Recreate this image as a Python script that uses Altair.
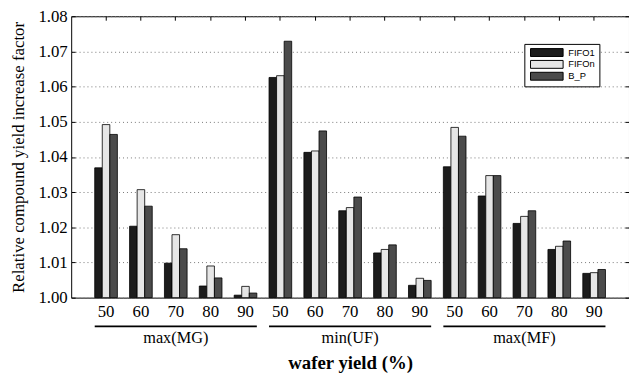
import altair as alt
import pandas as pd

groups = ["max(MG)", "min(UF)", "max(MF)"]
yields = ["50", "60", "70", "80", "90"]
series = ["FIFO1", "FIFOn", "B_P"]
colors = ["#1c1c1c", "#e6e6e6", "#4b4b4b"]

fifo1 = [1.0369, 1.0203, 1.0098, 1.0033, 1.0007,
         1.0626, 1.0413, 1.0247, 1.0127, 1.0035,
         1.0372, 1.0289, 1.0211, 1.0137, 1.0069]
fifon = [1.0492, 1.0307, 1.0179, 1.0090, 1.0032,
         1.0631, 1.0417, 1.0256, 1.0137, 1.0055,
         1.0484, 1.0347, 1.0231, 1.0146, 1.0071]
b_p = [1.0464, 1.0260, 1.0139, 1.0056, 1.0013,
       1.0729, 1.0474, 1.0286, 1.0150, 1.0049,
       1.0459, 1.0347, 1.0247, 1.0161, 1.0080]

y_ticks = [1.00, 1.01, 1.02, 1.03, 1.04, 1.05, 1.06, 1.07, 1.08]

W, H = 565, 285
SERIF = "Liberation Serif"

cats = [f"{g}|{y}" for g in groups for y in yields]
rows = []
for s, vals in zip(series, [fifo1, fifon, b_p]):
    for c, v in zip(cats, vals):
        rows.append({"cat": c, "series": s, "value": v})
df = pd.DataFrame(rows)

grp_df = pd.DataFrame({
    "group": groups,
    "start": [f"{g}|{yields[0]}" for g in groups],
    "end": [f"{g}|{yields[-1]}" for g in groups],
    "mid": [f"{g}|{yields[2]}" for g in groups],
})

xscale = alt.Scale(domain=cats, paddingInner=0.35, paddingOuter=0.675)
yscale = alt.Scale(domain=[1.0, 1.08], zero=False, nice=False)

bars = alt.Chart(df).mark_bar(stroke="black", strokeWidth=0.8).encode(
    x=alt.X("cat:N", scale=xscale, title="wafer yield (%)",
            axis=alt.Axis(orient="bottom", labelExpr="split(datum.label, '|')[1]",
                          labelAngle=0, ticks=False, tickSize=0, domain=False,
                          labelPadding=6, labelFont=SERIF, labelFontSize=17,
                          labelColor="black", titleFont=SERIF, titleFontSize=19,
                          titleFontWeight="bold", titleColor="black",
                          titlePadding=35, grid=False)),
    xOffset=alt.XOffset("series:N", sort=series,
                        scale=alt.Scale(paddingInner=0, paddingOuter=0)),
    y=alt.Y("value:Q", scale=yscale, title="Relative compound yield increase factor",
            axis=alt.Axis(orient="left", values=y_ticks, format=".2f", ticks=False,
                          tickSize=0, domain=False, labelPadding=4, labelFont=SERIF,
                          labelFontSize=17, labelColor="black", titleFont=SERIF,
                          titleFontSize=17, titleFontWeight="normal",
                          titleColor="black", titlePadding=11,
                          grid=True, gridDash=[1, 3], gridColor="#777",
                          gridWidth=1)),
    y2=alt.datum(1.0),
    color=alt.Color("series:N", sort=series,
                    scale=alt.Scale(domain=series, range=colors),
                    legend=alt.Legend(title=None, orient="none", legendX=459,
                                      legendY=28, fillColor="white",
                                      strokeColor="black", padding=4,
                                      labelFont="Liberation Sans", labelFontSize=9.5,
                                      labelColor="black",
                                      symbolType="M-5.5,-1.33H5.5V1.33H-5.5Z",
                                      symbolSize=36, symbolStrokeColor="black",
                                      symbolStrokeWidth=1, symbolOffset=14,
                                      labelOffset=17, rowPadding=-1,
                                      symbolOpacity=1)),
)

ticks_a = alt.Chart(df).mark_bar(opacity=0).encode(
    x=alt.X("cat:N", scale=xscale,
            axis=alt.Axis(orient="bottom", offset=-H, labels=False, domain=False,
                          ticks=True, tickSize=4, tickColor="black", grid=False,
                          title=None)),
    y=alt.Y("value:Q", scale=yscale,
            axis=alt.Axis(orient="right", offset=-W, values=y_ticks, labels=False,
                          domain=False, ticks=True, tickSize=4, tickColor="black",
                          grid=False, title=None)),
)

ticks_b = alt.Chart(df).mark_bar(opacity=0).encode(
    x=alt.X("cat:N", scale=xscale, axis=None),
    y=alt.Y("value:Q", scale=yscale,
            axis=alt.Axis(orient="left", offset=-W, values=y_ticks, labels=False,
                          domain=False, ticks=True, tickSize=4, tickColor="black",
                          grid=False, title=None)),
)

grp_rules = alt.Chart(grp_df).mark_rule(color="black", strokeWidth=1.8).encode(
    x=alt.X("start:N", scale=xscale, axis=None, bandPosition=0),
    x2=alt.X2("end:N", bandPosition=1),
    y=alt.value(H + 29),
)

grp_text = alt.Chart(grp_df).mark_text(font=SERIF, fontSize=16.5, color="black",
                                       baseline="middle").encode(
    x=alt.X("mid:N", scale=xscale, axis=None),
    y=alt.value(H + 41),
    text="group:N",
)

chart = alt.layer(bars, ticks_a, ticks_b, grp_rules, grp_text).resolve_scale(
    x="shared", y="shared"
).resolve_axis(x="independent", y="independent").properties(
    width=W, height=H,
    padding={"left": 64, "top": 6, "right": 0, "bottom": 76},
    autosize=alt.AutoSizeParams(type="none"),
).configure_view(stroke="black", strokeWidth=1)

chart.save("out.html", embed_options={"renderer": "svg", "actions": False})
